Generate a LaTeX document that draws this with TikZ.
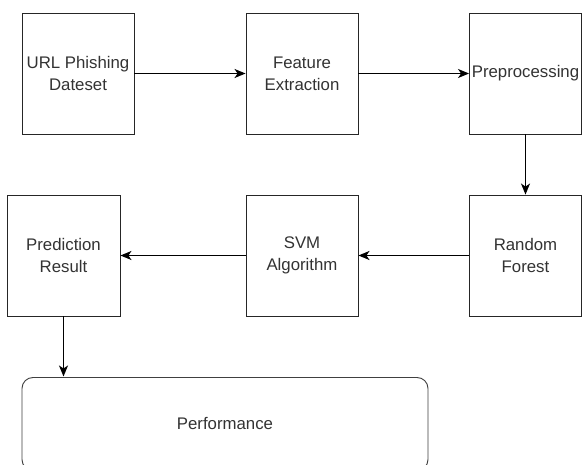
\documentclass[tikz,border=0pt]{standalone}
\usepackage{fontspec}
\setmainfont{Liberation Sans}
\usetikzlibrary{arrows.meta}
\definecolor{txt}{HTML}{333333}
\tikzset{
  box/.style={draw=black!85, line width=0.9pt, rectangle, minimum width=112pt, minimum height=121pt, inner sep=0pt, align=center, text=txt, font=\fontsize{16.8}{22}\selectfont},
  perf/.style={draw=black!75, line width=0.9pt, rectangle, rounded corners=11pt, minimum width=406pt, minimum height=93pt, inner sep=0pt, text=txt, font=\fontsize{16.8}{22}\selectfont},
  flow/.style={draw=black, line width=1.4pt, -{Stealth[length=11pt,width=9pt,inset=3pt]}}
}
\begin{document}
\begin{tikzpicture}[x=1pt,y=-1pt]
\useasboundingbox (0,0) rectangle (582,465);
\clip (0,0) rectangle (582,465);
\fill[white] (0,0) rectangle (582,465);
\node[box] (url) at (78,73.5) {URL Phishing\\Dateset};
\node[box] (feat) at (302,73.5) {Feature\\Extraction};
\node[box] (pre) at (525.5,73.5) {Preprocessing};
\node[box, minimum width=113pt] (pred) at (63.5,255.5) {Prediction\\Result};
\node[box] (svm) at (302,255.5) {SVM\\Algorithm};
\node[box] (rf) at (525.5,255.5) {Random\\Forest};
\node[perf] (perfn) at (225,424) {Performance};
\coordinate (pt) at (63.5,376.5);
\draw[flow] (url.east) -- (feat.west);
\draw[flow] (feat.east) -- (pre.west);
\draw[flow] (pre.south) -- (rf.north);
\draw[flow] (rf.west) -- (svm.east);
\draw[flow] (svm.west) -- (pred.east);
\draw[flow] (pred.south) -- (pt);
\end{tikzpicture}
\end{document}
